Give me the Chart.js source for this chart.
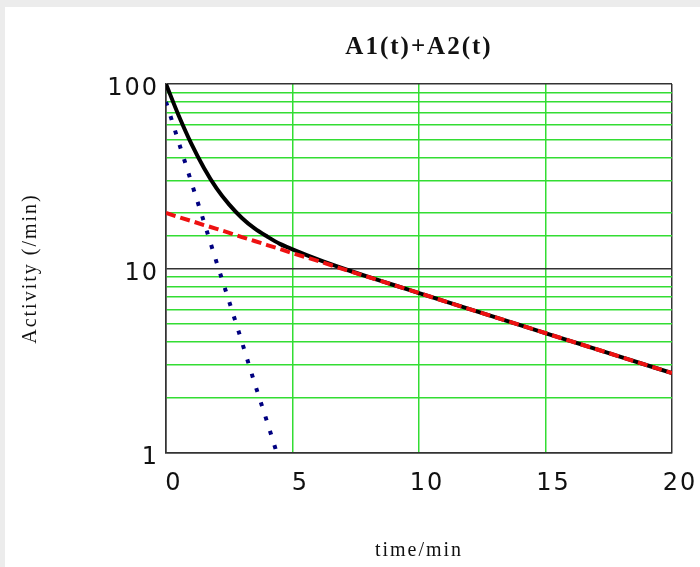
<!DOCTYPE html>
<html>
<head>
<meta charset="utf-8">
<script src="https://cdn.jsdelivr.net/npm/chart.js@4/dist/chart.umd.min.js"></script>
<style>
  html, body { margin: 0; padding: 0; background: #ececec; }
  #panel { position: absolute; left: 5px; top: 7px; width: 695px; height: 560px; background: #fff; }
  canvas { display: block; }
</style>
</head>
<body>
<div id="panel"><canvas id="decay" width="695" height="560"></canvas></div>
<script>
// two-component decay: fast (A1), slow (A2) and their sum, activity per minute
const times = [0, 0.5, 1, 1.5, 2, 2.5, 3, 3.5, 4, 4.5, 5, 6, 7, 8, 9, 10, 12, 14, 16, 18, 20];
const totalActivity = [100, 67.5, 47.5, 35.1, 27.2, 22.2, 18.8, 16.5, 14.9, 13.6, 12.7, 11.2, 10.0, 9.0, 8.14, 7.36, 6.02, 4.93, 4.04, 3.31, 2.71];
const slowActivity = [20, 19.0, 18.1, 17.2, 16.4, 15.6, 14.8, 14.1, 13.4, 12.75, 12.1, 11.0, 9.93, 8.99, 8.13, 7.36, 6.02, 4.93, 4.04, 3.31, 2.71];
const fastTimes = [0, 0.5, 1, 1.5, 2, 2.5, 3, 3.5, 4, 4.38];
const fastActivity = [80, 48.5, 29.4, 17.9, 10.8, 6.6, 4.0, 2.4, 1.47, 1.0];
const xTicks = [0, 5, 10, 15, 20];
const yTickLabels = [1, 10, 100];

const GREEN = '#33dd33';
const FRAME = '#333';

function points(xs, ys) {
  return xs.map((x, i) => ({ x, y: ys[i] }));
}

// all text in this chart is set a little loose
const spacing = {
  id: 'spacing',
  beforeUpdate(chart) { chart.ctx.letterSpacing = '2px'; },
  beforeLayout(chart) { chart.ctx.letterSpacing = '2px'; },
  beforeDraw(chart) { chart.ctx.letterSpacing = '2px'; },
};

new Chart(document.getElementById('decay'), {
  type: 'line',
  data: {
    datasets: [
      {
        label: 'A1(t)',
        data: points(fastTimes, fastActivity),
        borderColor: '#000080',
        borderWidth: 4,
        borderDash: [4, 11],
        pointRadius: 0,
        cubicInterpolationMode: 'monotone',
      },
      {
        label: 'A2(t)',
        data: points(times, slowActivity),
        borderColor: '#ee1111',
        borderWidth: 4,
        borderDash: [10, 5],
        pointRadius: 0,
      },
      {
        label: 'A1(t)+A2(t)',
        data: points(times, totalActivity),
        borderColor: '#000',
        borderWidth: 4,
        pointRadius: 0,
        cubicInterpolationMode: 'monotone',
      },
    ],
  },
  options: {
    responsive: false,
    animation: false,
    layout: { padding: { left: 0, right: 28, top: 0, bottom: 0 } },
    plugins: {
      legend: { display: false },
      tooltip: { enabled: false },
      title: {
        display: true,
        text: 'A1(t)+A2(t)',
        fullSize: false,
        color: '#111',
        font: { family: 'Liberation Serif', size: 25, weight: 'bold', lineHeight: 1.2 },
        padding: { top: 26, bottom: 21 },
      },
    },
    scales: {
      x: {
        type: 'linear',
        min: 0,
        max: 20,
        afterFit(scale) {
          scale.height = 114;
          // tick labels may hang past the plot edges
          scale.paddingLeft = 0;
          scale.paddingRight = 0;
        },
        afterBuildTicks(scale) { scale.ticks = xTicks.map(v => ({ value: v })); },
        grid: {
          drawTicks: false,
          lineWidth: 1.5,
          color: c => (c.tick && (c.tick.value === 0 || c.tick.value === 20)) ? FRAME : GREEN,
        },
        border: { display: true, color: FRAME, width: 1.5 },
        ticks: {
          color: '#111',
          padding: 16,
          labelOffset: 8,
          maxRotation: 0,
          autoSkip: false,
          font: { family: 'DejaVu Sans', size: 24 },
        },
        title: {
          display: true,
          text: 'time/min',
          color: '#111',
          font: { family: 'Liberation Serif', size: 20, lineHeight: 1.2 },
          padding: { top: 0, bottom: 4 },
        },
      },
      y: {
        type: 'logarithmic',
        min: 1,
        max: 100,
        afterFit(scale) { scale.width = 161; },
        grid: {
          drawTicks: false,
          lineWidth: 1.5,
          color: c => (c.tick && yTickLabels.includes(c.tick.value)) ? FRAME : GREEN,
        },
        border: { display: true, color: FRAME, width: 1.5 },
        ticks: {
          color: '#111',
          padding: 7,
          labelOffset: 5,
          autoSkip: false,
          font: { family: 'DejaVu Sans', size: 24 },
          callback: v => yTickLabels.includes(v) ? String(v) : '',
        },
        title: {
          display: true,
          text: 'Activity (/min)',
          color: '#111',
          font: { family: 'Liberation Serif', size: 20, lineHeight: 1.2 },
          padding: { top: 14, bottom: 0 },
        },
      },
    },
  },
  plugins: [spacing],
});
</script>
</body>
</html>
